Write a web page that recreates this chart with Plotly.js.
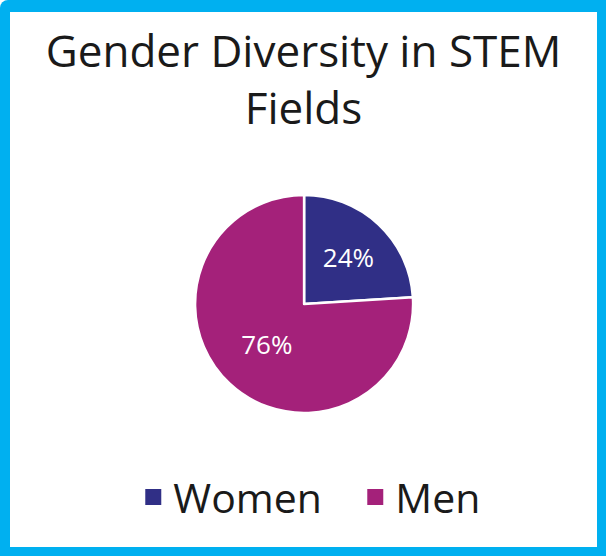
<!DOCTYPE html>
<html>
<head>
<meta charset="utf-8">
<script src="https://cdn.plot.ly/plotly-3.0.1.min.js"></script>
<style>
  html, body { margin: 0; padding: 0; background: #ffffff; }
  #frame { position: absolute; left: 0; top: 0; width: 606px; height: 556px; background: #00b0f0; border-radius: 8px 0 0 0; }
  #chart { position: absolute; left: 10px; top: 12px; width: 587px; height: 535px; background: #ffffff; }
</style>
</head>
<body>
<div id="frame"><div id="chart"></div></div>
<script>
const categories = ['Women', 'Men'];
const shares = [24, 76];
const colors = ['#302f86', '#a4217a'];
const chartTitle = 'Gender Diversity in STEM<br>Fields';

const FONT = '"Open Sans", Lato, sans-serif';

const pieTrace = {
  type: 'pie',
  labels: categories,
  values: shares,
  sort: false,
  direction: 'clockwise',
  rotation: 0,
  marker: { colors: colors, line: { color: '#ffffff', width: 2.5 } },
  textinfo: 'percent',
  textposition: 'inside',
  insidetextorientation: 'horizontal',
  textfont: { family: FONT, size: 26, color: '#ffffff' },
  domain: { x: [0.315, 0.687], y: [0.2505, 0.658] },
  showlegend: false,
  hoverinfo: 'label+percent'
};

const legendTraces = categories.map((c, i) => ({
  type: 'scatter',
  mode: 'markers',
  x: [null], y: [null],
  name: c,
  marker: { symbol: 'square', size: 18, color: colors[i] },
  showlegend: true,
  hoverinfo: 'skip'
}));

const layout = {
  width: 587,
  height: 535,
  margin: { l: 0, r: 0, t: 0, b: 0 },
  paper_bgcolor: '#ffffff',
  plot_bgcolor: '#ffffff',
  title: {
    text: chartTitle,
    font: { family: FONT, size: 44, color: '#1a1a1a' },
    x: 0.5, xanchor: 'center',
    y: 0.898, yanchor: 'top',
    yref: 'container'
  },
  xaxis: { visible: false },
  yaxis: { visible: false },
  showlegend: true,
  legend: {
    orientation: 'h',
    x: 0.21, xanchor: 'left',
    y: 0.093, yanchor: 'middle',
    font: { family: FONT, size: 41, color: '#1a1a1a' },
    entrywidth: 177,
    itemsizing: 'trace'
  }
};

Plotly.newPlot('chart', [pieTrace, ...legendTraces], layout, { displayModeBar: false, staticPlot: true });
</script>
</body>
</html>
